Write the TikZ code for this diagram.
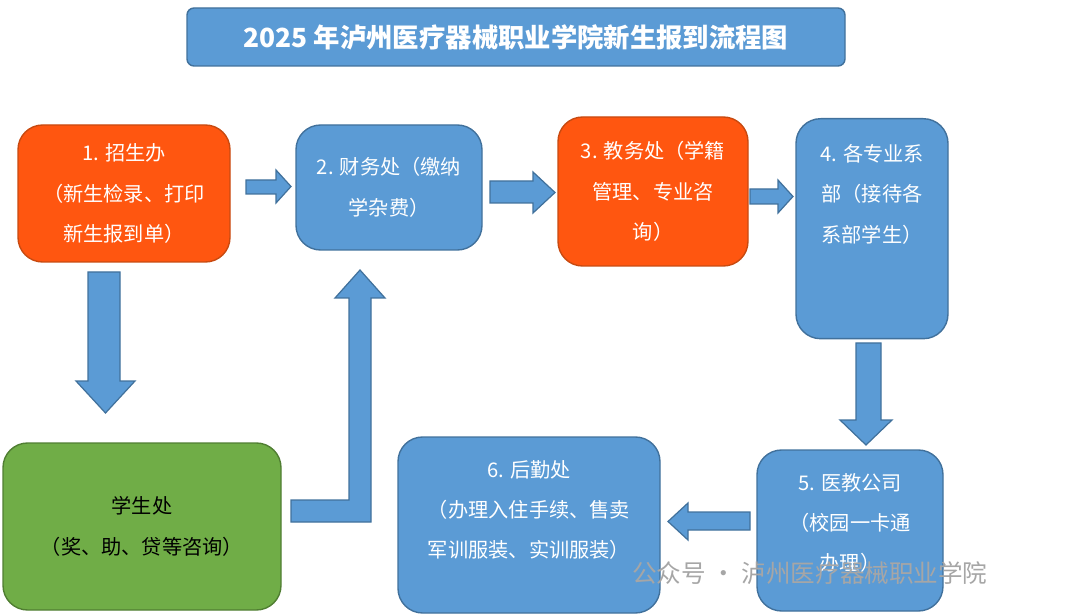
\documentclass[tikz,border=0pt]{standalone}
\usepackage{fontspec}
\setmainfont{Noto Sans CJK SC}
\usetikzlibrary{positioning}
\definecolor{boxblue}{HTML}{5B9BD5}
\definecolor{edgeblue}{HTML}{41719C}
\definecolor{boxorange}{HTML}{FF5610}
\definecolor{edgeorange}{HTML}{C84A10}
\definecolor{boxgreen}{HTML}{70AD47}
\definecolor{edgegreen}{HTML}{507E32}
\tikzset{
  office/.style={rounded corners=14pt, draw=edgeblue, fill=boxblue, text=white,
    line width=0.8pt, align=center, font=\fontsize{11.5}{23}\selectfont, inner sep=0pt},
  hot/.style={office, draw=edgeorange, fill=boxorange},
  aid/.style={office, draw=edgegreen, fill=boxgreen, text=black},
  blockarrow/.style={draw=edgeblue, fill=boxblue, line width=0.7pt},
}
\begin{document}
\begin{tikzpicture}[x=0.02cm,y=-0.02cm]
\useasboundingbox (0,0) rectangle (1080,615);
% title
\node [office, rounded corners=4pt, minimum width=658*0.02cm, minimum height=58*0.02cm,
  font=\fontsize{15}{18}\selectfont\bfseries] (title) at (516,37) {2025 年泸州医疗器械职业学院新生报到流程图};
% offices
\node [hot, minimum width=212*0.02cm, minimum height=137*0.02cm] (zsb) at (124,193.5)
  {1. 招生办\\（新生检录、打印\\新生报到单）};
\node [office, minimum width=186*0.02cm, minimum height=125*0.02cm] (cwc) at (389,187.5)
  {2. 财务处（缴纳\\学杂费）};
\node [hot, minimum width=190*0.02cm, minimum height=149*0.02cm] (jwc) at (653,191.5)
  {3. 教务处（学籍\\管理、专业咨\\询）};
\node [office, minimum width=152*0.02cm, minimum height=220*0.02cm, anchor=north] (xb) at (872,118)
  {};
\node at (872,194) [align=center, text=white, font=\fontsize{11.5}{23}\selectfont] (xbt)
  {4. 各专业系\\部（接待各\\系部学生）};
\node [office, minimum width=186*0.02cm, minimum height=161*0.02cm] (yj) at (850,530.5)
  {};
\node at (850,523) [align=center, text=white, font=\fontsize{11.5}{23}\selectfont] (yjt)
  {5. 医教公司\\（校园一卡通\\办理）};
\node [office, minimum width=262*0.02cm, minimum height=176*0.02cm] (hq) at (529,525)
  {};
\node at (529,510) [align=center, text=white, font=\fontsize{11.5}{23}\selectfont] (hqt)
  {6. 后勤处\\（办理入住手续、售卖\\军训服装、实训服装）};
\node [aid, minimum width=278*0.02cm, minimum height=167*0.02cm] (xsc) at (142,526.5)
  {学生处\\（奖、助、贷等咨询）};
% block arrows
\draw [blockarrow] (246,180) -- (276,180) -- (276,170) -- (291,186.5) -- (276,203) -- (276,194) -- (246,194) -- cycle;
\draw [blockarrow] (490,181) -- (533,181) -- (533,172) -- (555,192.5) -- (533,213) -- (533,203) -- (490,203) -- cycle;
\draw [blockarrow] (750,189) -- (778,189) -- (778,180) -- (793,196.5) -- (778,213) -- (778,204) -- (750,204) -- cycle;
\draw [blockarrow] (88,272) -- (120,272) -- (120,381) -- (135,381) -- (105.5,413) -- (76,381) -- (88,381) -- cycle;
\draw [blockarrow] (856,343) -- (881,343) -- (881,420) -- (892,420) -- (866,445) -- (840,420) -- (856,420) -- cycle;
\draw [blockarrow] (750,512) -- (688,512) -- (688,503) -- (668,521.5) -- (688,540) -- (688,530) -- (750,530) -- cycle;
\draw [blockarrow] (291,500) -- (349,500) -- (349,298) -- (335,298) -- (360,270) -- (385,298)
  -- (371,298) -- (371,522) -- (291,522) -- cycle;
% watermark
\node [text=black!35, font=\fontsize{14}{16}\selectfont, anchor=west] (wm) at (626,573)
  {公众号 · 泸州医疗器械职业学院};
\end{tikzpicture}
\end{document}
